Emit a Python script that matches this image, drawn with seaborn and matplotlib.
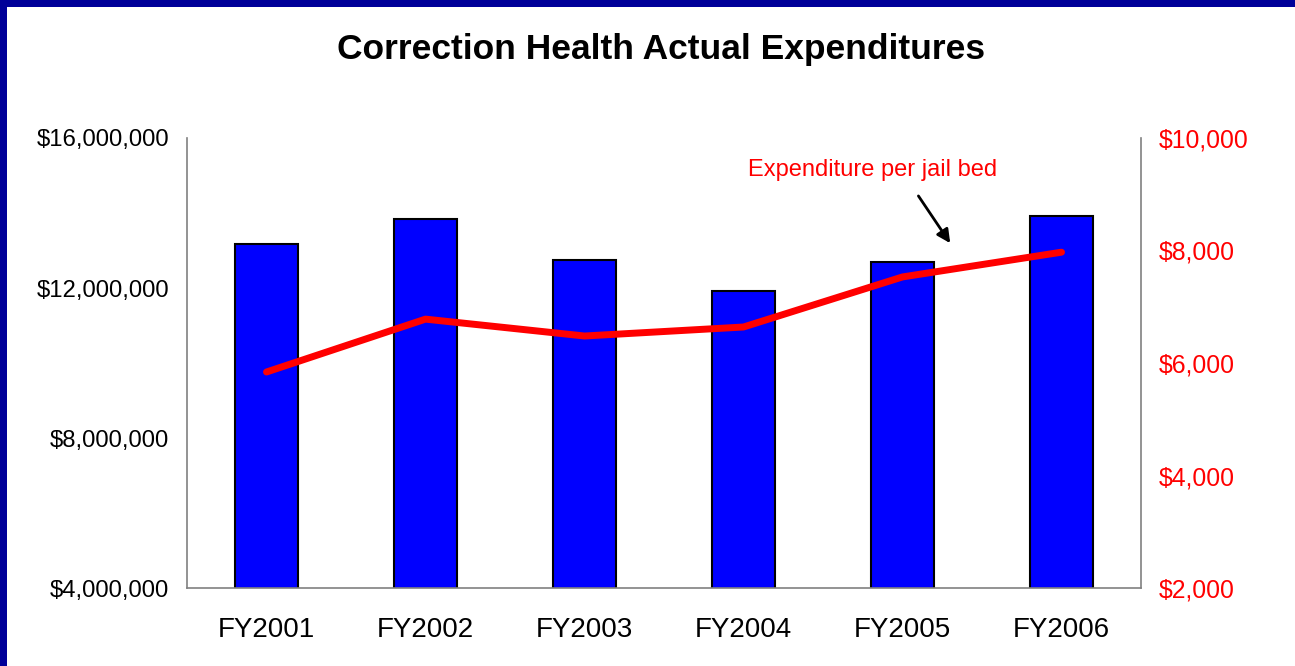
import matplotlib
matplotlib.use("Agg")
import matplotlib.pyplot as plt
from matplotlib.patches import Rectangle
from matplotlib.ticker import FuncFormatter
import pandas as pd
import seaborn as sns

# chart data
years = ["FY2001", "FY2002", "FY2003", "FY2004", "FY2005", "FY2006"]
total_spend = [13170000, 13840000, 12750000, 11920000, 12690000, 13920000]
per_bed = [5840, 6780, 6480, 6640, 7530, 7970]

df = pd.DataFrame({"year": years, "total": total_spend, "per_bed": per_bed})

sns.set_style("white")
plt.rcParams["font.family"] = ["Liberation Sans", "DejaVu Sans"]
plt.rcParams["text.color"] = "black"

fig = plt.figure(figsize=(12.95, 6.66), dpi=100)
fig.patch.set_facecolor("white")
ax = fig.add_axes([0.1444, 0.1171, 0.8811 - 0.1444, 0.7928 - 0.1171])

sns.barplot(data=df, x="year", y="total", color="#0000FF", saturation=1,
            edgecolor="black", linewidth=1.5, width=0.4, ax=ax)
ax.set_xlim(-0.5, len(years) - 0.5)
ax.set_ylim(4000000, 16000000)
ax.set_yticks([4000000, 8000000, 12000000, 16000000])
ax.yaxis.set_major_formatter(FuncFormatter(lambda v, p: f"${v:,.0f}"))
ax.set_xlabel("")
ax.set_ylabel("")
ax.tick_params(axis="y", length=0, pad=13, labelsize=17.2, colors="black")
ax.tick_params(axis="x", length=0, pad=21, labelsize=20, colors="black")

ax2 = ax.twinx()
sns.lineplot(data=df, x="year", y="per_bed", color="#FF0000", linewidth=5,
             sort=False, ax=ax2)
for ln in ax2.lines:
    ln.set_solid_capstyle("round")
    ln.set_solid_joinstyle("round")
ax2.set_ylim(2000, 10000)
ax2.set_yticks([2000, 4000, 6000, 8000, 10000])
ax2.yaxis.set_major_formatter(FuncFormatter(lambda v, p: f"${v:,.0f}"))
ax2.set_ylabel("")
ax2.set_xlabel("")
ax2.tick_params(axis="y", length=0, pad=13, labelsize=17.8, labelcolor="#FF0000")

for a in (ax, ax2):
    a.spines["top"].set_visible(False)
    for s in ("left", "right", "bottom"):
        a.spines[s].set_color("#808080")
        a.spines[s].set_linewidth(1.2)
ax.spines["right"].set_visible(False)
ax2.spines["left"].set_visible(False)
ax2.spines["bottom"].set_visible(False)

ax2.text(3.81, 9430, "Expenditure per jail bed", color="#FF0000", fontsize=17,
         ha="center", va="center")
ax2.annotate("", xy=(4.30, 8130), xytext=(4.10, 8970),
             arrowprops=dict(arrowstyle="-|>", color="black", lw=2,
                             mutation_scale=20, shrinkA=0, shrinkB=0))

fig.text(0.5105, 1 - 50 / 666, "Correction Health Actual Expenditures",
         ha="center", va="center", fontsize=25.5, fontweight="bold", color="black")

# dark blue frame on top and left edges
fig.patches.append(Rectangle((0, 1 - 7 / 666), 1, 7 / 666, transform=fig.transFigure,
                             facecolor="#000099", edgecolor="none", zorder=10))
fig.patches.append(Rectangle((0, 0), 7 / 1295, 1, transform=fig.transFigure,
                             facecolor="#000099", edgecolor="none", zorder=10))

fig.savefig("out.png", dpi=100, facecolor="white")
